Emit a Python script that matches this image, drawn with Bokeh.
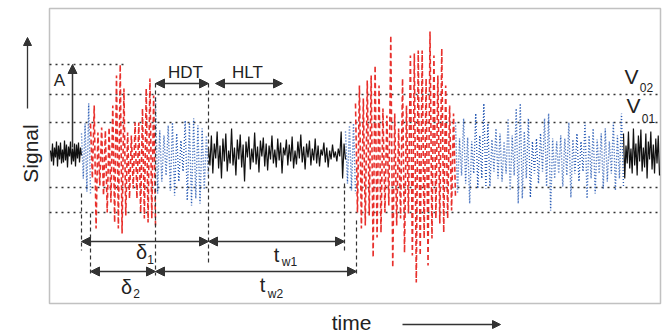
import numpy as np
from bokeh.plotting import figure
from bokeh.models import Arrow, NormalHead, Label, Range1d, BoxAnnotation
from bokeh.embed import file_html
from bokeh.resources import INLINE

# ---------------- data (time in px-like units, signal relative to baseline) -------------
box = dict(left=0, right=611, bottom=-150, top=145)

seg_black1 = (1, 32)
seg_blueA = (32, 41)
seg_red1 = (41, 106)
seg_blueB = (106, 159)
seg_black2 = (159, 296)
seg_blueC = (296, 306)
seg_red2 = (306, 406)
seg_blueD = (406, 574)
seg_black3 = (574, 610)

black1 = [3, -8, 10, -12, 6, -4, 12, -13, 8, -6, 11, -10, 4, -9, 13, -7, 9, -14, 7, -3,
          12, -11, 5, -8, 10, -13, 9, -5, 11, -9, 6, -2]
black2 = [5, -12, 18, -20, 10, -5, 22, -15, 8, -25, 15, -8, 20, -18, 3, -10, 25, -12, 6, -22,
          14, -6, 19, -14, 9, -28, 12, -4, 17, -16, 5, -9, 21, -11, 7, -19, 13, -3, 16, -13,
          10, -17, 8, -6, 18, -10, 4, -14, 15, -7, 11, -20, 6, -2, 14, -12, 9, -8, 17, -15,
          3, -11, 12, -5, 19, -9, 7, -16, 10, -4, 13, -12, 5, -7, 15, -10, 8, -13, 4, -2,
          11, -9, 6, -14, 3, -6, 9, -4, 2, -8, 5, -3, 22, -25, 10, -6]
black3 = [20, -25, 8, -10, 22, -15, 5, -20, 25, -12, 10, -22, 18, -8, 24, -18, 6, -14, 20, -25,
          12, -6, 22, -16, 9, -20, 15, -10, 18, -22]

red1_tops = [30, 48, 21, 26, 23, 26, 48, 78, 89, 65, 21, 18, 31, 31, 45, 65, 75, 58]
red1_bots = [-25, -75, -32, -42, -59, -49, -69, -75, -80, -62, -45, -35, -45, -59, -65, -69,
             -65, -72]
red2_tops = [50, 68, 55, 73, 78, 88, 68, 45, 38, 118, 40, 25, 75, 48, 98, 100, 103, 103, 75,
             122, 98, 78, 105, 68, 48, 40]
red2_bots = [-59, -75, -72, -62, -104, -84, -79, -59, -52, -114, -72, -65, -99, -60, -102,
             -129, -102, -85, -112, -85, -65, -70, -79, -65, -57, -45]

blueA_tops = [20, 30, 50]
blueA_bots = [-25, -38, -40]
blueB_tops = [56, 23, 18, 28, 31, 20, 13, 33, 31, 35, 28, 25, 18]
blueB_bots = [-40, -28, -22, -37, -42, -28, -18, -47, -52, -45, -50, -36, -25]
blueC_tops = [22, 28, 30]
blueC_bots = [-30, -37, -40]
blueD_tops = [31, 15, 35, 16, 12, 40, 18, 50, 30, 14, 25, 20, 12, 35, 18, 45, 50, 22, 35, 12,
              15, 20, 35, 40, 15, 12, 18, 15, 31, 14, 20, 12, 31, 18, 25, 14, 20, 25, 12, 31,
              18, 40]
blueD_bots = [-40, -22, -30, -50, -20, -35, -25, -35, -33, -18, -25, -28, -20, -37, -22, -50,
              -45, -25, -44, -20, -30, -18, -33, -57, -25, -20, -33, -22, -44, -20, -28, -18,
              -45, -25, -40, -20, -35, -28, -20, -37, -25, -33]

# threshold levels
levels = [59, 31, -34, -59]
level_A = 89
level_A_end = 74

# time markers (dashed verticals)
markers = [32, 41, 106, 159, 295, 307]
marker_top = [-40, -60, 70, 70, -30, -67]
marker_bot = [-97, -122, -122, -109, -100, -122]

# interval arrows
hdt = (106, 159)
hlt = (166, 233)
delta1 = (32, 159)
tw1 = (159, 295)
delta2 = (41, 106)
tw2 = (106, 307)
amp_time = 23


def osc(seg, tops, bots):
    vals = []
    for a, b in zip(tops, bots):
        vals += [a, b]
    ts = np.linspace(seg[0], seg[1], len(vals))
    return ts, vals


def plain(seg, vals):
    return np.linspace(seg[0], seg[1], len(vals)), vals


p = figure(width=671, height=335, x_range=Range1d(-49, 622), y_range=Range1d(-182, 153),
           output_backend="svg", toolbar_location=None, x_axis_type=None, y_axis_type=None,
           min_border_left=0, min_border_right=0, min_border_top=0, min_border_bottom=0)
p.outline_line_color = None
p.background_fill_color = "white"
p.border_fill_color = "white"

DOT = "#333333"
p.segment(x0=[box["left"]] * len(levels), y0=levels, x1=[box["right"]] * len(levels),
          y1=levels, line_color=DOT, line_width=1.5, line_dash="2 4")
p.segment(x0=[box["left"]], y0=[level_A], x1=[level_A_end], y1=[level_A], line_color=DOT,
          line_width=1.5, line_dash="2 4")

# signal
BLK = "#111111"
RED = "#e8302c"
BLUE = "#2a5cb5"
for seg, vals in [(seg_black1, black1), (seg_black2, black2), (seg_black3, black3)]:
    x, y = plain(seg, vals)
    p.line(x, y, line_color=BLK, line_width=1.2)
for seg, t, b in [(seg_blueA, blueA_tops, blueA_bots), (seg_blueB, blueB_tops, blueB_bots),
                  (seg_blueC, blueC_tops, blueC_bots), (seg_blueD, blueD_tops, blueD_bots)]:
    x, y = osc(seg, t, b)
    p.line(x, y, line_color=BLUE, line_width=1.4, line_dash="1 2")
for seg, t, b in [(seg_red1, red1_tops, red1_bots), (seg_red2, red2_tops, red2_bots)]:
    x, y = osc(seg, t, b)
    p.line(x, y, line_color=RED, line_width=1.6, line_dash="5 3")

# marker dashed verticals
p.segment(x0=markers, y0=marker_top, x1=markers, y1=marker_bot, line_color="#333333",
          line_width=1.2, line_dash="4 3")

# frame box
p.add_layout(BoxAnnotation(left=box["left"], right=box["right"], bottom=box["bottom"],
                           top=box["top"], fill_color=None, line_color="#333333",
                           line_width=1.5))

AC = "#333333"


def head(s=9):
    return NormalHead(size=s, fill_color=AC, line_color=AC, line_width=1)


def darrow(t0, t1, y):
    p.add_layout(Arrow(x_start=t0, y_start=y, x_end=t1, y_end=y, start=head(), end=head(),
                       line_color=AC, line_width=1.5))


darrow(*hdt, 70)
darrow(*hlt, 70)
darrow(*delta1, -88)
darrow(*tw1, -88)
darrow(*delta2, -118)
darrow(*tw2, -118)
p.add_layout(Arrow(x_start=amp_time, y_start=6, x_end=amp_time, y_end=level_A, start=None,
                   end=head(), line_color=AC, line_width=1.5))

FONT = "Liberation Sans"
TC = "#222222"


def lab(x, y, t, size, angle=0.0, base="middle"):
    p.add_layout(Label(x=x, y=y, text=t, text_font=FONT, text_font_size=f"{size}px",
                       text_align="center", text_baseline=base, text_color=TC,
                       angle=angle))


lab(10, 73, "A", 17)
lab(136, 81, "HDT", 17)
lab(198, 81, "HLT", 17)
lab(92, -98, "δ", 20)
lab(101, -106, "1", 12)
lab(77, -133, "δ", 20)
lab(87, -140, "2", 12)
lab(227, -101, "t", 20)
lab(240, -108, "w1", 12)
lab(213, -131, "t", 20)
lab(226, -140, "w2", 12)
lab(582, 77, "V", 21)
lab(597, 66, "02", 12)
lab(584, 48, "V", 21)
lab(599, 35, "01", 12)

# outside labels
lab(-19, 0, "Signal", 21, angle=np.pi / 2, base="alphabetic")
p.add_layout(Arrow(x_start=-22, y_start=45, x_end=-22, y_end=116, start=None,
                   end=NormalHead(size=8, fill_color=AC, line_color=AC), line_color=AC,
                   line_width=1.3))
lab(302, -169, "time", 21, base="middle")
p.add_layout(Arrow(x_start=353, y_start=-171, x_end=451, y_end=-171, start=None,
                   end=NormalHead(size=8, fill_color=AC, line_color=AC), line_color=AC,
                   line_width=1.3))

open("out.html", "w").write(file_html(p, INLINE))
